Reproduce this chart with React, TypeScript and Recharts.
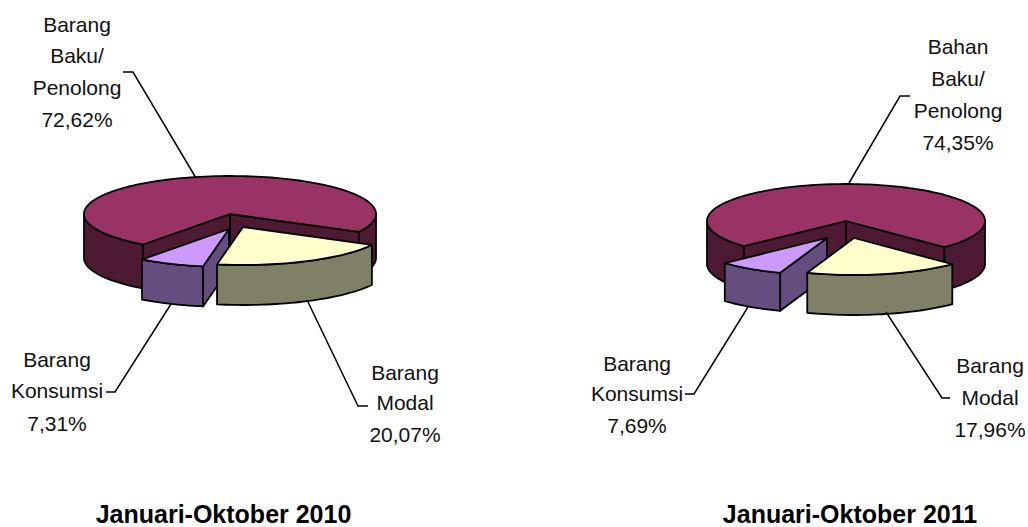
import React from "react";
import { PieChart, Pie } from "recharts";

const namesLeft = ["Barang Baku/ Penolong", "Barang Konsumsi", "Barang Modal"];
const valuesLeft = [72.62, 7.31, 20.07];
const namesRight = ["Bahan Baku/ Penolong", "Barang Konsumsi", "Barang Modal"];
const valuesRight = [74.35, 7.69, 17.96];
const titleLeft = "Januari-Oktober 2010";
const titleRight = "Januari-Oktober 2011";

const toRows = (names: string[], values: number[]) =>
  names.map((name, i) => ({ name, value: values[i] }));

const topColors = ["#993366", "#CC99FF", "#FFFFCC"];
const wallColors = ["#4D1933", "#664D80", "#808066"];
const FONT = "'Liberation Sans', Arial, sans-serif";

type Layout = {
  ry: number;
  depth: number[];
  explode: number[][];
  text: { x: number; y: number[] }[];
  leader: number[][][];
};

const layoutLeft: Layout = {
  ry: 38,
  depth: [44, 40, 40],
  explode: [[0, 0], [-1, 15], [13, 13]],
  text: [
    { x: 77, y: [32, 63, 95, 127] },
    { x: 57, y: [367, 398, 431] },
    { x: 405, y: [380, 410, 442] },
  ],
  leader: [
    [[123, 72], [133, 72], [196, 178]],
    [[106, 392], [115, 392], [171, 304]],
    [[368, 406], [358, 406], [308, 302]],
  ],
};

const layoutRight: Layout = {
  ry: 37,
  depth: [43, 38, 40],
  explode: [[0, 0], [-19, 17], [8, 17]],
  text: [
    { x: 958, y: [54, 86, 118, 150] },
    { x: 637, y: [371, 401, 433] },
    { x: 990, y: [373, 405, 437] },
  ],
  leader: [
    [[910, 96], [900, 96], [849, 183]],
    [[685, 394], [694, 394], [748, 307]],
    [[950, 398], [942, 398], [886, 312]],
  ],
};

const RAD = Math.PI / 180;

function makeShape(layout: Layout) {
  return function Slice3D(props: any) {
    const { cx, cy, outerRadius, startAngle, endAngle, index } = props;
    const rx = outerRadius;
    const ry = layout.ry;
    const d = layout.depth[index];
    const [ox, oy] = layout.explode[index];
    const s = Math.min(startAngle, endAngle);
    const e = Math.max(startAngle, endAngle);
    const pt = (a: number, dy = 0) => [
      cx + ox + rx * Math.cos(a * RAD),
      cy + oy + dy - ry * Math.sin(a * RAD),
    ];
    const arc = (a: number, b: number, dy = 0) => {
      const n = Math.max(2, Math.ceil(Math.abs(b - a) / 2));
      const out: number[][] = [];
      for (let i = 0; i <= n; i++) out.push(pt(a + ((b - a) * i) / n, dy));
      return out;
    };
    const path = (pts: number[][]) =>
      "M" + pts.map((p) => `${p[0].toFixed(2)},${p[1].toFixed(2)}`).join("L") + "Z";
    const apex = [cx + ox, cy + oy];
    const apexLow = [cx + ox, cy + oy + d];

    const walls: string[] = [];
    for (let k = -1; k <= 1; k++) {
      const lo = Math.max(s, 180 + 360 * k);
      const hi = Math.min(e, 360 + 360 * k);
      if (hi > lo) walls.push(path([...arc(lo, hi), ...arc(hi, lo, d)]));
    }
    const faces: string[] = [];
    if (Math.cos(s * RAD) > 0) faces.push(path([apex, pt(s), pt(s, d), apexLow]));
    if (Math.cos(e * RAD) < 0) faces.push(path([apex, pt(e), pt(e, d), apexLow]));

    const common = { stroke: "#000", strokeWidth: 1.8, strokeLinejoin: "round" as const };
    return (
      <g>
        {walls.map((w, i) => (
          <path key={"w" + i} d={w} fill={wallColors[index]} {...common} />
        ))}
        {faces.map((f, i) => (
          <path key={"f" + i} d={f} fill={wallColors[index]} {...common} />
        ))}
        <path d={path([apex, ...arc(s, e)])} fill={topColors[index]} {...common} />
      </g>
    );
  };
}

function makeLabel(layout: Layout) {
  return function SliceLabel(props: any) {
    const { index, name, value } = props;
    const spec = layout.text[index];
    const lines = [...String(name).split(" "), Number(value).toFixed(2).replace(".", ",") + "%"];
    const pts = layout.leader[index].map((p) => p.join(",")).join(" ");
    return (
      <g>
        <polyline points={pts} fill="none" stroke="#000" strokeWidth={1.5} />
        {lines.map((line, i) => (
          <text
            key={i}
            x={spec.x}
            y={spec.y[i]}
            textAnchor="middle"
            fontFamily={FONT}
            fontSize={21}
            fill="#111"
          >
            {line}
          </text>
        ))}
      </g>
    );
  };
}

export default function App() {
  return (
    <div style={{ position: "absolute", left: 0, top: 0, width: 1028, height: 527, background: "#fff" }}>
      <PieChart width={1028} height={527} margin={{ top: 0, right: 0, bottom: 0, left: 0 }}>
        <Pie
          data={toRows(namesLeft, valuesLeft)}
          dataKey="value"
          nameKey="name"
          cx={230}
          cy={214}
          outerRadius={146}
          startAngle={-28}
          endAngle={332}
          isAnimationActive={false}
          shape={makeShape(layoutLeft)}
          label={makeLabel(layoutLeft)}
          labelLine={false}
          stroke="none"
        />
        <Pie
          data={toRows(namesRight, valuesRight)}
          dataKey="value"
          nameKey="name"
          cx={846}
          cy={221}
          outerRadius={139}
          startAngle={-45}
          endAngle={315}
          isAnimationActive={false}
          shape={makeShape(layoutRight)}
          label={makeLabel(layoutRight)}
          labelLine={false}
          stroke="none"
        />
        <text x={223.5} y={523} textAnchor="middle" fontFamily={FONT} fontSize={25} fontWeight="bold" fill="#000">
          {titleLeft}
        </text>
        <text x={850} y={523} textAnchor="middle" fontFamily={FONT} fontSize={25} fontWeight="bold" fill="#000">
          {titleRight}
        </text>
      </PieChart>
    </div>
  );
}
